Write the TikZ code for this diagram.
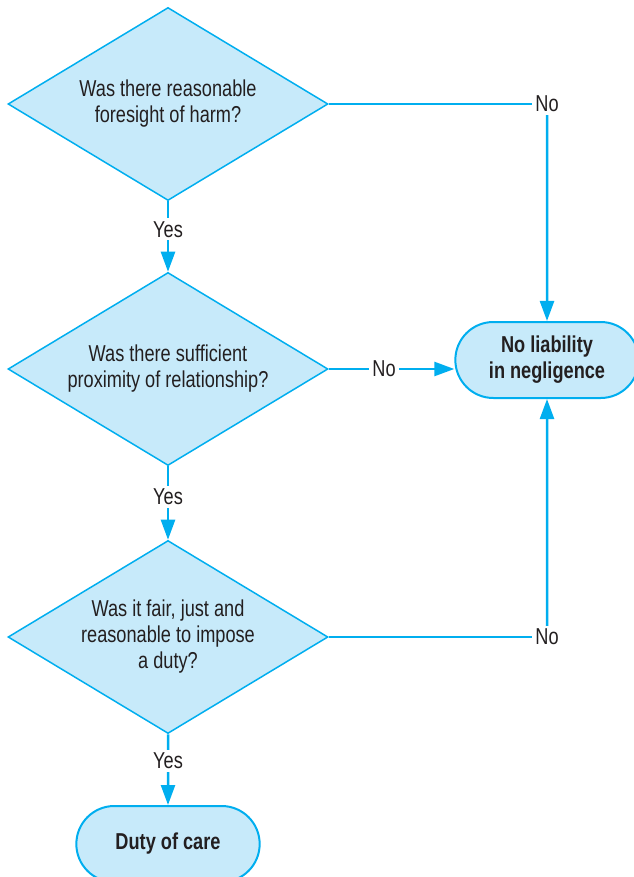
\documentclass[tikz,border=0pt]{standalone}
\usepackage{fontspec}
\setmainfont{Liberation Sans}[FakeStretch=0.79]
\usepackage{tikz}
\usetikzlibrary{arrows.meta, shapes.geometric, shapes.misc}
\definecolor{flowline}{RGB}{0,174,239}
\definecolor{flowfill}{RGB}{199,234,250}
\definecolor{flowtext}{RGB}{35,31,32}

\begin{document}
\begin{tikzpicture}[x=1pt, y=-1pt, >={Triangle[length=20pt,width=14pt]},
    every node/.style={text=flowtext, font=\fontsize{23}{26}\selectfont},
    question/.style={diamond, aspect=1.66, draw=flowline, line width=1.5pt, fill=flowfill,
      minimum width=320pt, minimum height=193pt, inner sep=0pt, align=center},
    outcome/.style={rounded rectangle, draw=flowline, line width=2pt, fill=flowfill,
      minimum width=190pt, minimum height=76pt, align=center,
      font=\fontsize{23}{26}\selectfont\bfseries},
    answer/.style={fill=white, inner sep=3pt},
    flow/.style={draw=flowline, line width=2.5pt}]
    \useasboundingbox (0,0) rectangle (633,877);
    \node[question] (foresight) at (168,104) {Was there reasonable\\foresight of harm?};
    \node[question] (proximity) at (168,369) {Was there sufficient\\proximity of relationship?};
    \node[question] (fairness) at (168,637) {Was it fair, just and\\reasonable to impose\\a duty?};
    \node[outcome] (noliab) at (547,360) {No liability\\in negligence};
    \node[outcome] (duty) at (168,844) {Duty of care};
    \node[answer] (nofar) at (547,104) {No}; \node[answer] (nolow) at (547,637) {No};
    % the yes path down the left
    \draw[flow,->] (foresight) -- node[answer,pos=.4] {Yes} (proximity);
    \draw[flow,->] (proximity) -- node[answer,pos=.42] {Yes} (fairness);
    \draw[flow,->] (fairness) -- node[answer,pos=.38] {Yes} (duty);
    % the no paths to the right
    \draw[flow] (foresight.east) -- (nofar); \draw[flow,->] (nofar) -- (noliab);
    \draw[flow,->] (proximity.east) -- node[answer,pos=.44] {No} (noliab.west |- proximity.east);
    \draw[flow] (fairness.east) -- (nolow); \draw[flow,->] (nolow) -- (noliab);
\end{tikzpicture}
\end{document}
